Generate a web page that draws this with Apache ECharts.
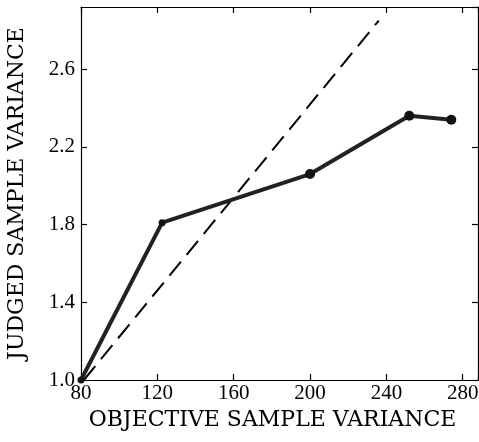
<!DOCTYPE html>
<html>
<head>
<meta charset="utf-8">
<script src="https://cdn.jsdelivr.net/npm/echarts@6/dist/echarts.min.js"></script>
<style>
  html, body { margin: 0; padding: 0; background: #fff; }
  #chart { width: 479px; height: 442px; }
</style>
</head>
<body>
<div id="chart"></div>
<script>
// 数据：客观样本方差 vs 判断样本方差
var objectiveVar = [80, 122.5, 200, 252, 274];
var judgedVar = [1.0, 1.81, 2.06, 2.36, 2.34];
// 虚线（参考线）两端
var refX = [81.5, 236];
var refY = [1.0, 2.85];
var xTicks = [80, 120, 160, 200, 240, 280];
var yTicks = [1.0, 1.4, 1.8, 2.2, 2.6];

var tickFont = 'Liberation Serif';
var titleFont = 'DejaVu Serif';

function pairs(xs, ys) {
    return xs.map(function (x, i) { return [x, ys[i]]; });
}

var oChart = echarts.init(document.getElementById('chart'));

var axisCommon = {
    type: 'value',
    axisLine: { show: true, onZero: false, lineStyle: { color: '#000', width: 1.2 } },
    axisTick: { show: true, inside: true, length: 6, lineStyle: { color: '#000', width: 1.2 } },
    splitLine: { show: false }
};

var chartopt = {
    animation: false,
    grid: { left: 81, right: 1, top: 7, bottom: 62, outerBoundsMode: 'none', containLabel: false },
    xAxis: [
        Object.assign({}, axisCommon, {
            position: 'bottom',
            min: 80, max: 288, interval: 40,
            name: 'OBJECTIVE SAMPLE VARIANCE',
            nameLocation: 'middle', nameGap: 15,
            nameTextStyle: { fontFamily: titleFont, fontSize: 22, color: '#000', padding: [0, 14, 0, 0] },
            axisLabel: {
                fontFamily: tickFont, fontSize: 21, color: '#000', margin: 3,
                formatter: function (v) { return xTicks.indexOf(v) >= 0 ? String(v) : ''; }
            }
        }),
        Object.assign({}, axisCommon, {
            position: 'top',
            min: 80, max: 288, interval: 40,
            axisLabel: { show: false }
        })
    ],
    yAxis: [
        Object.assign({}, axisCommon, {
            position: 'left',
            min: 1.0, max: 2.92, interval: 0.4,
            name: 'JUDGED SAMPLE VARIANCE',
            nameLocation: 'middle', nameGap: 53,
            nameTextStyle: { fontFamily: titleFont, fontSize: 22, color: '#000' },
            axisLabel: {
                fontFamily: tickFont, fontSize: 21, color: '#000', margin: 6,
                showMaxLabel: false,
                formatter: function (v) {
                    for (var i = 0; i < yTicks.length; i++) {
                        if (Math.abs(yTicks[i] - v) < 1e-6) return yTicks[i].toFixed(1);
                    }
                    return '';
                }
            }
        }),
        Object.assign({}, axisCommon, {
            position: 'right',
            min: 1.0, max: 2.92, interval: 0.4,
            axisLabel: { show: false }
        })
    ],
    series: [
        {
            name: 'reference',
            type: 'line',
            data: pairs(refX, refY),
            symbol: 'none',
            clip: true,
            lineStyle: { color: '#000', width: 2, type: [18, 9] }
        },
        {
            name: 'judged',
            type: 'line',
            data: pairs(objectiveVar, judgedVar),
            symbol: 'circle',
            symbolSize: function (val, params) { return params.dataIndex < 2 ? 7 : 10; },
            clip: false,
            itemStyle: { color: '#111' },
            lineStyle: { color: '#222', width: 4 }
        }
    ]
};

oChart.setOption(chartopt);
</script>
</body>
</html>
